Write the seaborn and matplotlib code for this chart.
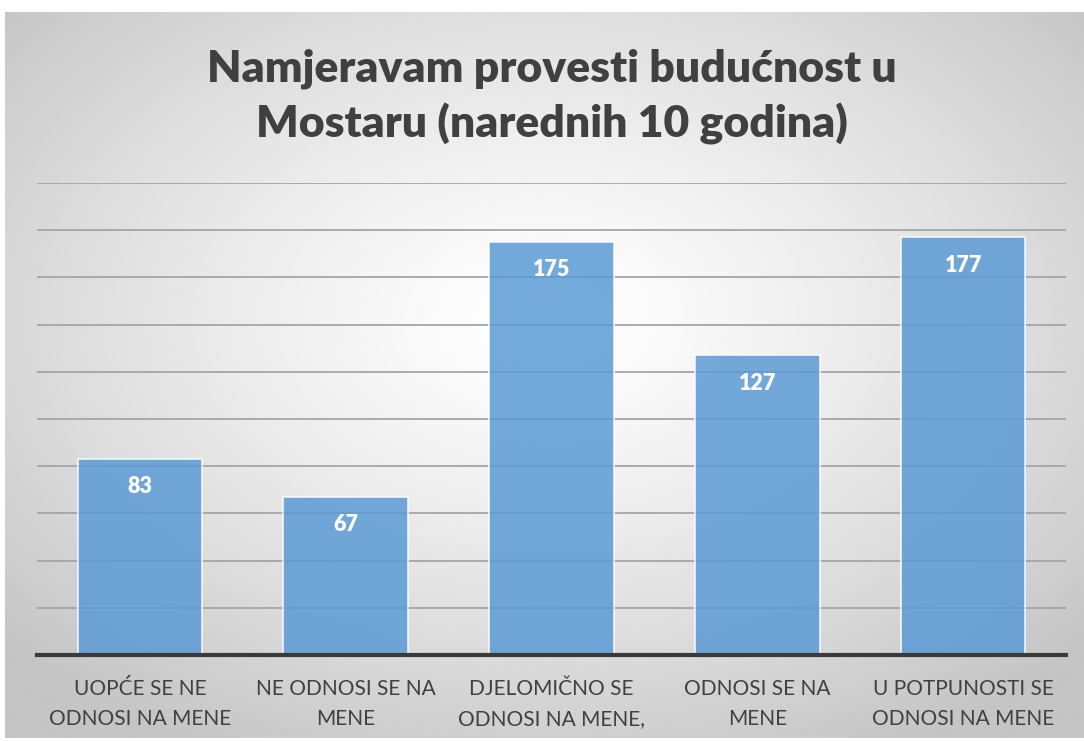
import numpy as np
import pandas as pd
import matplotlib
matplotlib.use("Agg")
import matplotlib.pyplot as plt
import seaborn as sns

categories = ["UOPĆE SE NE\nODNOSI NA MENE", "NE ODNOSI SE NA\nMENE",
              "DJELOMIČNO SE\nODNOSI NA MENE,", "ODNOSI SE NA\nMENE",
              "U POTPUNOSTI SE\nODNOSI NA MENE"]
values = [83, 67, 175, 127, 177]
title = "Namjeravam provesti budućnost u\nMostaru (narednih 10 godina)"

sns.set_theme(style="white")
plt.rcParams['font.family'] = ['Lato', 'DejaVu Sans']

W, H = 1084, 741
fig = plt.figure(figsize=(W / 100, H / 100), dpi=100)
fig.patch.set_facecolor("white")

# background radial gradient
bg = fig.add_axes([5 / W, 3 / H, (W - 5) / W, (738 - 12) / H])
gx, gy = np.meshgrid(np.linspace(-1, 1, 400), np.linspace(-1, 1, 300))
r = np.sqrt(((gx - 0.0) / 1.0) ** 2 + ((gy - 0.15) / 1.0) ** 2)
shade = 1.0 - 0.23 * np.clip(r / 1.35, 0, 1) ** 1.3
bg.imshow(shade, cmap="gray", vmin=0, vmax=1, aspect="auto",
          extent=[0, 1, 0, 1], origin="lower", interpolation="bilinear")
bg.axis("off")

ax = fig.add_axes([37 / W, (H - 655) / H, (1066 - 37) / W, (655 - 183) / H])
ax.patch.set_alpha(0)

df = pd.DataFrame({"cat": categories, "val": values})
sns.barplot(data=df, x="cat", y="val", ax=ax, color="#5B9BD5", alpha=0.85,
            width=0.605, edgecolor="white", linewidth=1.2, saturation=1, zorder=3)

ax.set_ylim(0, 200)
ax.set_xlim(-0.5, 4.5)
ax.set_yticks(np.arange(0, 201, 20))
ax.yaxis.grid(True, color="#a5a5a5", linewidth=1.3, zorder=0)
ax.set_axisbelow(True)
ax.tick_params(axis="y", left=False, labelleft=False)
ax.tick_params(axis="x", length=0, pad=17)
ax.set_xticks(range(len(categories)))
ax.set_xticklabels(categories, fontsize=15, color="#404040", linespacing=1.65)
for s in ["top", "right", "left"]:
    ax.spines[s].set_visible(False)
ax.spines["bottom"].set_color("#3a3a3a")
ax.spines["bottom"].set_linewidth(3)
ax.spines["bottom"].set_zorder(5)
ax.set_xlabel("")
ax.set_ylabel("")

for i, v in enumerate(values):
    ax.annotate(str(v), (i, v), xytext=(0, -20), textcoords="offset points",
                ha="center", va="center", color="white", fontsize=15.5,
                fontweight="heavy", zorder=6)

fig.text(552 / W, 1 - 97 / H, title, ha="center", va="center", fontsize=32,
         fontweight="heavy", color="#404040", linespacing=1.4)

fig.savefig("out.png", dpi=100)
